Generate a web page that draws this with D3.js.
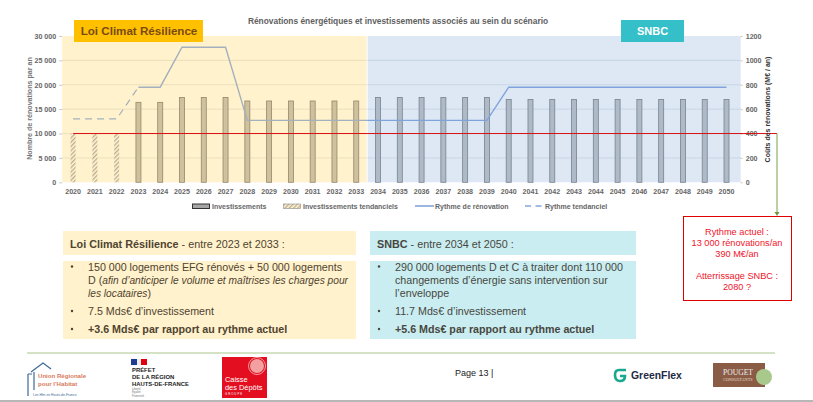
<!DOCTYPE html>
<html><head><meta charset="utf-8">
<script src="https://d3js.org/d3.v7.min.js"></script>
<style>
html,body{margin:0;padding:0;background:#fff;overflow:hidden}
svg{display:block;font-family:"Liberation Sans",Arial,sans-serif}
</style></head><body><svg id="c" width="813" height="402"></svg>
<script>
const years = d3.range(2020, 2051);
// investissements (M€/an, axe de droite)
const investTendanciel = [400,400,400];
const investissements = [656,656,696,696,696,667,667,667,667,667,667,696,696,696,696,696,696,680,680,680,680,680,680,680,680,680,680,680];
// rythme de rénovation (logements/an, axe de gauche)
const rythmeTendanciel = [13000,13000,13000,19500];
const rythme = [19500,19500,27700,27700,27700,12700,12700,12700,12700,12700,12700,12700,12700,12700,12700,12700,12700,19500,19500,19500,19500,19500,19500,19500,19500,19500,19500,19500];
const rythmeActuel = 10000;
const leftTicks = [0,5000,10000,15000,20000,25000,30000];
const rightTicks = [0,200,400,600,800,1000,1200];
const lcrItems = [
 [["150 000 logements EFG rénovés + 50 000 logements",0]],
 [["D (",0],["afin d’anticiper le volume et maîtrises les charges pour",1]],
 [["les locataires",1],[")",0]],
 [["7.5 Mds€ d’investissement",0]],
 [["+3.6 Mds€ par rapport au rythme actuel",2]]
];
const snbcItems = [
 [["290 000 logements D et C à traiter dont 110 000",0]],
 [["changements d’énergie sans intervention sur",0]],
 [["l’enveloppe",0]],
 [["11.7 Mds€ d’investissement",0]],
 [["+5.6 Mds€ par rapport au rythme actuel",2]]
];
const noteLines = ["Rythme actuel :","13 000 rénovations/an","390 M€/an","","Atterrissage SNBC :","2080 ?"];

const svg = d3.select("#c");
const L=62.2,R=737.4,RB=740.7,T=36,B=182.3;
const xb = d3.scaleBand().domain(years).range([L,R]).paddingInner(0.77).paddingOuter(0.385);
const cx = y => xb(y)+xb.bandwidth()/2;
const yL = d3.scaleLinear().domain([0,30000]).range([B,T]);
const yR = d3.scaleLinear().domain([0,1200]).range([B,T]);
const split = cx(2033)+(cx(2034)-cx(2033))/2;

const defs = svg.append("defs");
const hp = defs.append("pattern").attr("id","hatch").attr("width",3).attr("height",3)
  .attr("patternUnits","userSpaceOnUse").attr("patternTransform","rotate(45)");
hp.append("rect").attr("width",3).attr("height",3).attr("fill","#fff6e0");
hp.append("rect").attr("width",1.4).attr("height",3).attr("fill","#bfae85");
defs.append("clipPath").attr("id","clipY").append("rect").attr("x",L).attr("y",0).attr("width",split-L).attr("height",200);
defs.append("clipPath").attr("id","clipB").append("rect").attr("x",split).attr("y",0).attr("width",RB-split).attr("height",200);

// fonds
svg.append("rect").attr("x",L).attr("y",T).attr("width",split-L-.5).attr("height",B-T).attr("fill","#fff2cc");
svg.append("rect").attr("x",split+.5).attr("y",T).attr("width",RB-split-.5).attr("height",B-T).attr("fill","#dee8f4");

// grille
svg.append("g").selectAll("line").data(leftTicks.slice(1,-1)).join("line")
  .attr("x1",L).attr("x2",split-.5).attr("y1",d=>yL(d)).attr("y2",d=>yL(d)).attr("stroke","#ebdfbf");
svg.append("g").selectAll("line").data(leftTicks.slice(1,-1)).join("line")
  .attr("x1",split+.5).attr("x2",RB).attr("y1",d=>yL(d)).attr("y2",d=>yL(d)).attr("stroke","#c7d5e5");

// axes
const fmt = d=>d3.format(",")(d).replace(/,/g," ");
const ax = svg.append("g").attr("transform",`translate(${L},0)`)
  .call(d3.axisLeft(yL).tickValues(leftTicks).tickFormat(fmt).tickSize(3).tickPadding(3));
const ar = svg.append("g").attr("transform",`translate(${RB},0)`)
  .call(d3.axisRight(yR).tickValues(rightTicks).tickFormat(d3.format("d")).tickSize(2).tickPadding(3));
const ab = svg.append("g").attr("transform",`translate(0,${B})`)
  .call(d3.axisBottom(xb).tickValues(years).tickSize(0).tickPadding(6.5));
[ax,ar,ab].forEach(g=>{
  g.select(".domain").remove();
  g.selectAll("line").attr("stroke","#c8c8c8");
  g.selectAll("text").attr("font-size",7.1).attr("font-weight","bold").attr("fill","#666").attr("font-family","Liberation Sans");
});

// barres
const barYears = years.slice(3);
svg.append("g").selectAll("rect").data(investissements).join("rect")
  .attr("x",(d,i)=>xb(barYears[i])).attr("width",xb.bandwidth())
  .attr("y",d=>yR(d)).attr("height",d=>B-yR(d))
  .attr("fill",(d,i)=>barYears[i]<=2033?"#cfc19e":"#aebac7")
  .attr("stroke",(d,i)=>barYears[i]<=2033?"#94886a":"#77838f").attr("stroke-width",.8);
svg.append("g").selectAll("rect").data(investTendanciel).join("rect")
  .attr("x",(d,i)=>xb(years[i])).attr("width",xb.bandwidth())
  .attr("y",d=>yR(d)).attr("height",d=>B-yR(d)).attr("fill","url(#hatch)");

// courbes
const line = d3.line().x(d=>cx(d[0])).y(d=>yL(d[1]));
const rPts = rythme.map((v,i)=>[barYears[i],v]);
const tPts = rythmeTendanciel.map((v,i)=>[years[i],v]);
[["clipY","#a3b0bd"],["clipB","#7fa3dc"]].forEach(([c,col])=>{
  svg.append("path").attr("d",line(rPts)).attr("fill","none").attr("stroke",col)
    .attr("stroke-width",1.4).attr("clip-path",`url(#${c})`);
});
svg.append("path").attr("d",line(tPts)).attr("fill","none").attr("stroke","#a3b0bd")
  .attr("stroke-width",1.2).attr("stroke-dasharray","7 5");

// rythme actuel et renvoi
const xEnd = 777;
svg.append("line").attr("x1",cx(2020)).attr("x2",xEnd).attr("y1",yL(rythmeActuel)).attr("y2",yL(rythmeActuel))
  .attr("stroke","#d81010").attr("stroke-width",1);
svg.append("line").attr("x1",xEnd).attr("x2",xEnd).attr("y1",yL(rythmeActuel)).attr("y2",213)
  .attr("stroke","#86a95c").attr("stroke-width",1.1);
svg.append("path").attr("d",`M${xEnd-2.5},212L${xEnd+2.5},212L${xEnd},216Z`).attr("fill","#6f9a45");

// titres
svg.append("text").attr("x",398).attr("y",24).attr("text-anchor","middle").attr("font-size",8.4)
  .attr("font-weight","bold").attr("fill","#5f5f5f").text("Rénovations énergétiques et investissements associés au sein du scénario");
svg.append("text").attr("transform",`translate(31.5,108.5) rotate(-90)`).attr("text-anchor","middle")
  .attr("font-size",7.1).attr("font-weight","bold").attr("fill","#777").text("Nombre de rénovations par an");
svg.append("text").attr("transform",`translate(770,109.5) rotate(-90)`).attr("text-anchor","middle")
  .attr("font-size",7).attr("font-weight","bold").attr("fill","#333").text("Coûts des rénovations (M€ / an)");

// bandeaux
svg.append("rect").attr("x",74).attr("y",20).attr("width",129).attr("height",22).attr("fill","#ffc000");
svg.append("text").attr("x",139).attr("y",35).attr("text-anchor","middle").attr("font-size",11.6)
  .attr("font-weight","bold").attr("fill","#7a4a14").text("Loi Climat Résilience");
svg.append("rect").attr("x",621).attr("y",20).attr("width",63).attr("height",22).attr("fill","#35bfc9");
svg.append("text").attr("x",652.5).attr("y",35).attr("text-anchor","middle").attr("font-size",11)
  .attr("font-weight","bold").attr("fill","#fff").text("SNBC");

// légende
const lg = svg.append("g").attr("font-size",7).attr("font-weight","bold").attr("fill","#666");
lg.append("rect").attr("x",192.5).attr("y",204).attr("width",17).attr("height",4.5).attr("fill","#a6a6a6").attr("stroke","#333");
lg.append("text").attr("x",212).attr("y",208.5).text("Investissements");
lg.append("rect").attr("x",283.5).attr("y",204).attr("width",17).attr("height",4.5).attr("fill","url(#hatch)").attr("stroke","#999").attr("stroke-width",.7);
lg.append("text").attr("x",303).attr("y",208.5).text("Investissements tendanciels");
lg.append("line").attr("x1",415).attr("x2",434).attr("y1",206).attr("y2",206).attr("stroke","#4a7bc8").attr("stroke-width",1.1);
lg.append("text").attr("x",435).attr("y",208.5).text("Rythme de rénovation");
lg.append("line").attr("x1",525).attr("x2",542).attr("y1",206).attr("y2",206).attr("stroke","#4a7bc8").attr("stroke-width",1.1).attr("stroke-dasharray","6 4.5");
lg.append("text").attr("x",545).attr("y",208.5).text("Rythme tendanciel");

// encadrés
function panel(x,w,fill,col,head,headRest,items){
  svg.append("rect").attr("x",x).attr("y",231).attr("width",w).attr("height",24).attr("fill",fill);
  svg.append("rect").attr("x",x).attr("y",261).attr("width",w).attr("height",78).attr("fill",fill);
  const t=svg.append("text").attr("x",x+7).attr("y",248).attr("font-size",10.8).attr("fill",col);
  t.append("tspan").attr("font-weight","bold").text(head);
  t.append("tspan").text(headRest);
  const ys=[270.5,283.5,296.5,315,333];
  const bullets=[0,3,4];
  items.forEach((runs,i)=>{
    const tx=svg.append("text").attr("x",x+25).attr("y",ys[i]).attr("font-size",10.7).attr("fill",col);
    runs.forEach(([s,st])=>{
      const sp=tx.append("tspan").text(s);
      if(st===1) sp.attr("font-style","italic").attr("font-size",10.2);
      if(st===2) sp.attr("font-weight","bold");
    });
  });
  bullets.forEach(i=>svg.append("circle").attr("cx",x+9).attr("cy",ys[i]-4).attr("r",1.2).attr("fill",col));
}
panel(63,293,"#fff2cc","#4f4330","Loi Climat Résilience"," - entre 2023 et 2033 :",lcrItems);
panel(370,266,"#c9edf0","#47473f","SNBC"," - entre 2034 et 2050 :",snbcItems);

// note rouge
svg.append("rect").attr("x",683.5).attr("y",216.5).attr("width",108).attr("height",84).attr("fill","#fff").attr("stroke","#e00000").attr("stroke-width",1);
const noteY=[234.5,245.5,257,0,279,290];
svg.append("g").selectAll("text").data(noteLines).join("text")
  .attr("x",737).attr("y",(d,i)=>noteY[i]).attr("text-anchor","middle").attr("font-size",9.2)
  .attr("fill","#f0142a").text(d=>d);

// pied de page
svg.append("line").attr("x1",27).attr("x2",775).attr("y1",353).attr("y2",353).attr("stroke","#a9c48c").attr("stroke-width",1);
svg.append("line").attr("x1",0).attr("x2",813).attr("y1",401).attr("y2",401).attr("stroke","#707070").attr("stroke-width",1.2);
svg.append("text").attr("x",455).attr("y",376).attr("font-size",9).attr("fill","#222").text("Page 13 |");

// logos
const f=svg.append("g");
f.append("path").attr("d","M28,396V374M28,374h4M31,372L43,363L51,369M34,372V390").attr("fill","none").attr("stroke","#3d6a96").attr("stroke-width",1.2);
f.append("text").attr("x",38).attr("y",378).attr("font-size",6.1).attr("font-weight","bold").attr("fill","#d77a5a").text("Union Régionale");
f.append("text").attr("x",38).attr("y",386).attr("font-size",6.1).attr("font-weight","bold").attr("fill","#d77a5a").text("pour l’Habitat");
f.append("text").attr("x",33).attr("y",395.5).attr("font-size",3.4).attr("fill","#3d6a96").text("Les Hlm en Hauts-de-France");
f.append("rect").attr("x",131).attr("y",359).attr("width",6).attr("height",6).attr("fill","#1f3a93");
f.append("rect").attr("x",137).attr("y",359).attr("width",4).attr("height",6).attr("fill","#eee");
f.append("rect").attr("x",141).attr("y",359).attr("width",6).attr("height",6).attr("fill","#e1000f");
["PRÉFET","DE LA RÉGION","HAUTS-DE-FRANCE"].forEach((s,i)=>f.append("text").attr("x",132).attr("y",371.5+i*7.4).attr("font-size",5.9).attr("font-weight","bold").attr("fill","#222").text(s));
["Liberté","Égalité","Fraternité"].forEach((s,i)=>f.append("text").attr("x",132).attr("y",390+i*3.4).attr("font-size",2.8).attr("fill","#777").text(s));
f.append("rect").attr("x",222).attr("y",357).attr("width",45).attr("height",41).attr("fill","#e30e20");
f.append("circle").attr("cx",257).attr("cy",366).attr("r",7).attr("fill","#f2a0a0");
f.append("circle").attr("cx",257).attr("cy",366).attr("r",8.5).attr("fill","none").attr("stroke","#fbdada").attr("stroke-width",.7);
f.append("text").attr("x",225).attr("y",382).attr("font-size",7.4).attr("fill","#fff").text("Caisse");
f.append("text").attr("x",225).attr("y",390).attr("font-size",7.4).attr("fill","#fff").text("des Dépôts");
f.append("text").attr("x",225).attr("y",395).attr("font-size",2.8).attr("letter-spacing",1).attr("fill","#fff").text("GROUPE");
f.append("path").attr("d","M626,370H619Q615,370 615,375Q615,381 620,381Q625,381 625,376H620").attr("fill","none").attr("stroke","#1aa98f").attr("stroke-width",2.6);
f.append("text").attr("x",631).attr("y",379).attr("font-size",10.4).attr("font-weight","bold").attr("fill","#1f2a44").text("GreenFlex");
f.append("rect").attr("x",713).attr("y",363).attr("width",52).attr("height",24).attr("fill","#8a5c46");
f.append("circle").attr("cx",764).attr("cy",377).attr("r",8).attr("fill","#a9c98c");
f.append("text").attr("x",723).attr("y",375).attr("font-size",7.6).attr("font-family","Liberation Serif").attr("fill","#eee").text("POUGET");
f.append("text").attr("x",723).attr("y",381).attr("font-size",4.2).attr("font-family","Liberation Serif").attr("fill","#e8dccc").text("CONSULTANTS");
</script></body></html>
